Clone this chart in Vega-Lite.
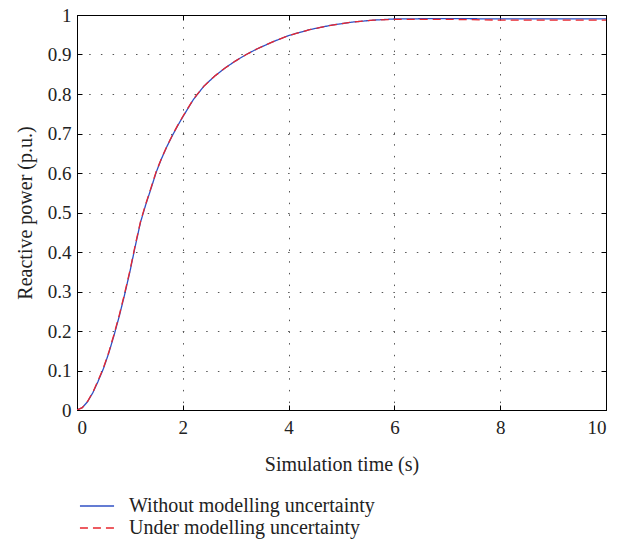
{
  "$schema": "https://vega.github.io/schema/vega-lite/v6.json",
  "width": 529,
  "height": 395,
  "autosize": {"type": "none"},
  "padding": {"left": 77, "top": 15, "right": 26, "bottom": 134},
  "background": "white",
  "config": {
    "view": {"stroke": "black", "strokeWidth": 1},
    "font": "Liberation Serif",
    "axis": {"labelFont": "Liberation Serif", "titleFont": "Liberation Serif", "labelFontSize": 19, "titleFontSize": 20, "labelColor": "#222", "titleColor": "#222", "titleFontWeight": "normal", "domainColor": "black", "tickColor": "black"},
    "legend": {"labelFont": "Liberation Serif", "labelFontSize": 20, "labelColor": "#222", "labelLimit": 400}
  },
  "data": {
    "values": [
      {"t": 0, "v": 0, "s": "Without modelling uncertainty"},
      {"t": 0.1, "v": 0.006, "s": "Without modelling uncertainty"},
      {"t": 0.2, "v": 0.021, "s": "Without modelling uncertainty"},
      {"t": 0.3, "v": 0.044, "s": "Without modelling uncertainty"},
      {"t": 0.4, "v": 0.073, "s": "Without modelling uncertainty"},
      {"t": 0.5, "v": 0.105, "s": "Without modelling uncertainty"},
      {"t": 0.6, "v": 0.144, "s": "Without modelling uncertainty"},
      {"t": 0.7, "v": 0.189, "s": "Without modelling uncertainty"},
      {"t": 0.8, "v": 0.238, "s": "Without modelling uncertainty"},
      {"t": 0.9, "v": 0.292, "s": "Without modelling uncertainty"},
      {"t": 1.0, "v": 0.35, "s": "Without modelling uncertainty"},
      {"t": 1.1, "v": 0.414, "s": "Without modelling uncertainty"},
      {"t": 1.2, "v": 0.475, "s": "Without modelling uncertainty"},
      {"t": 1.3, "v": 0.52, "s": "Without modelling uncertainty"},
      {"t": 1.4, "v": 0.561, "s": "Without modelling uncertainty"},
      {"t": 1.5, "v": 0.603, "s": "Without modelling uncertainty"},
      {"t": 1.6, "v": 0.637, "s": "Without modelling uncertainty"},
      {"t": 1.7, "v": 0.667, "s": "Without modelling uncertainty"},
      {"t": 1.8, "v": 0.694, "s": "Without modelling uncertainty"},
      {"t": 1.9, "v": 0.719, "s": "Without modelling uncertainty"},
      {"t": 2.0, "v": 0.742, "s": "Without modelling uncertainty"},
      {"t": 2.2, "v": 0.786, "s": "Without modelling uncertainty"},
      {"t": 2.4, "v": 0.82, "s": "Without modelling uncertainty"},
      {"t": 2.6, "v": 0.845, "s": "Without modelling uncertainty"},
      {"t": 2.8, "v": 0.866, "s": "Without modelling uncertainty"},
      {"t": 3.0, "v": 0.884, "s": "Without modelling uncertainty"},
      {"t": 3.2, "v": 0.9, "s": "Without modelling uncertainty"},
      {"t": 3.4, "v": 0.914, "s": "Without modelling uncertainty"},
      {"t": 3.7, "v": 0.932, "s": "Without modelling uncertainty"},
      {"t": 4.0, "v": 0.948, "s": "Without modelling uncertainty"},
      {"t": 4.4, "v": 0.963, "s": "Without modelling uncertainty"},
      {"t": 4.8, "v": 0.974, "s": "Without modelling uncertainty"},
      {"t": 5.2, "v": 0.982, "s": "Without modelling uncertainty"},
      {"t": 5.6, "v": 0.987, "s": "Without modelling uncertainty"},
      {"t": 6.0, "v": 0.99, "s": "Without modelling uncertainty"},
      {"t": 7.0, "v": 0.991, "s": "Without modelling uncertainty"},
      {"t": 8.0, "v": 0.99, "s": "Without modelling uncertainty"},
      {"t": 9.0, "v": 0.99, "s": "Without modelling uncertainty"},
      {"t": 10.0, "v": 0.99, "s": "Without modelling uncertainty"},
      {"t": 0, "v": 0, "s": "Under modelling uncertainty"},
      {"t": 0.1, "v": 0.006, "s": "Under modelling uncertainty"},
      {"t": 0.2, "v": 0.022, "s": "Under modelling uncertainty"},
      {"t": 0.3, "v": 0.045, "s": "Under modelling uncertainty"},
      {"t": 0.4, "v": 0.075, "s": "Under modelling uncertainty"},
      {"t": 0.5, "v": 0.107, "s": "Under modelling uncertainty"},
      {"t": 0.6, "v": 0.146, "s": "Under modelling uncertainty"},
      {"t": 0.7, "v": 0.192, "s": "Under modelling uncertainty"},
      {"t": 0.8, "v": 0.241, "s": "Under modelling uncertainty"},
      {"t": 0.9, "v": 0.295, "s": "Under modelling uncertainty"},
      {"t": 1.0, "v": 0.353, "s": "Under modelling uncertainty"},
      {"t": 1.1, "v": 0.417, "s": "Under modelling uncertainty"},
      {"t": 1.2, "v": 0.477, "s": "Under modelling uncertainty"},
      {"t": 1.3, "v": 0.522, "s": "Under modelling uncertainty"},
      {"t": 1.4, "v": 0.563, "s": "Under modelling uncertainty"},
      {"t": 1.5, "v": 0.605, "s": "Under modelling uncertainty"},
      {"t": 1.6, "v": 0.638, "s": "Under modelling uncertainty"},
      {"t": 1.7, "v": 0.668, "s": "Under modelling uncertainty"},
      {"t": 1.8, "v": 0.695, "s": "Under modelling uncertainty"},
      {"t": 1.9, "v": 0.72, "s": "Under modelling uncertainty"},
      {"t": 2.0, "v": 0.743, "s": "Under modelling uncertainty"},
      {"t": 2.2, "v": 0.787, "s": "Under modelling uncertainty"},
      {"t": 2.4, "v": 0.82, "s": "Under modelling uncertainty"},
      {"t": 2.6, "v": 0.845, "s": "Under modelling uncertainty"},
      {"t": 2.8, "v": 0.866, "s": "Under modelling uncertainty"},
      {"t": 3.0, "v": 0.884, "s": "Under modelling uncertainty"},
      {"t": 3.2, "v": 0.9, "s": "Under modelling uncertainty"},
      {"t": 3.4, "v": 0.914, "s": "Under modelling uncertainty"},
      {"t": 3.7, "v": 0.932, "s": "Under modelling uncertainty"},
      {"t": 4.0, "v": 0.948, "s": "Under modelling uncertainty"},
      {"t": 4.4, "v": 0.963, "s": "Under modelling uncertainty"},
      {"t": 4.8, "v": 0.974, "s": "Under modelling uncertainty"},
      {"t": 5.2, "v": 0.982, "s": "Under modelling uncertainty"},
      {"t": 5.6, "v": 0.987, "s": "Under modelling uncertainty"},
      {"t": 6.0, "v": 0.989, "s": "Under modelling uncertainty"},
      {"t": 7.0, "v": 0.989, "s": "Under modelling uncertainty"},
      {"t": 8.0, "v": 0.987, "s": "Under modelling uncertainty"},
      {"t": 9.0, "v": 0.987, "s": "Under modelling uncertainty"},
      {"t": 10.0, "v": 0.987, "s": "Under modelling uncertainty"}
    ]
  },
  "layer": [
    {
      "mark": {"type": "line", "strokeWidth": 1.3, "clip": true},
      "encoding": {
        "x": {"field": "t", "type": "quantitative", "scale": {"domain": [0, 10], "nice": false},
          "axis": {"values": [0, 2, 4, 6, 8, 10], "title": "Simulation time (s)", "tickSize": -5, "labelPadding": 13, "titlePadding": 17, "grid": true, "gridDash": [1.5, 10.2], "gridColor": "#555", "gridOpacity": 1, "domain": true}},
        "y": {"field": "v", "type": "quantitative", "scale": {"domain": [0, 1], "nice": false},
          "axis": {"values": [0, 0.1, 0.2, 0.3, 0.4, 0.5, 0.6, 0.7, 0.8, 0.9, 1], "title": "Reactive power (p.u.)", "tickSize": -5, "labelPadding": 11, "titlePadding": 12, "grid": true, "gridDash": [1.5, 10.2], "gridColor": "#555", "gridOpacity": 1, "labelExpr": "datum.value === 0 ? '0' : datum.value === 1 ? '1' : datum.label"}},
        "color": {"field": "s", "type": "nominal", "sort": ["Without modelling uncertainty", "Under modelling uncertainty"],
          "scale": {"domain": ["Without modelling uncertainty", "Under modelling uncertainty"], "range": ["#2f50c4", "#e8262e"]},
          "legend": {"title": null, "orient": "none", "legendX": 8, "legendY": 479, "symbolType": "M-1.55,0H1.55", "symbolSize": 484, "symbolStrokeWidth": 1.3, "rowPadding": 0, "labelOffset": 20, "symbolOffset": 0}},
        "strokeDash": {"field": "s", "type": "nominal", "sort": ["Without modelling uncertainty", "Under modelling uncertainty"],
          "scale": {"domain": ["Without modelling uncertainty", "Under modelling uncertainty"], "range": [[1, 0], [8, 5]]},
          "legend": {"title": null, "orient": "none", "legendX": 8, "legendY": 479, "symbolType": "M-1.55,0H1.55", "symbolSize": 484, "symbolStrokeWidth": 1.3, "rowPadding": 0, "labelOffset": 20, "symbolOffset": 0}},
        "order": {"field": "t", "type": "quantitative"}
      }
    },
    {
      "mark": {"type": "point", "opacity": 0},
      "encoding": {
        "x": {"field": "t", "type": "quantitative", "axis": {"orient": "top", "values": [0, 2, 4, 6, 8, 10], "labels": false, "title": null, "tickSize": -5, "grid": false}},
        "y": {"field": "v", "type": "quantitative", "axis": {"orient": "right", "values": [0, 0.1, 0.2, 0.3, 0.4, 0.5, 0.6, 0.7, 0.8, 0.9, 1], "labels": false, "title": null, "tickSize": -5, "grid": false}}
      }
    }
  ],
  "resolve": {"axis": {"x": "independent", "y": "independent"}}
}
